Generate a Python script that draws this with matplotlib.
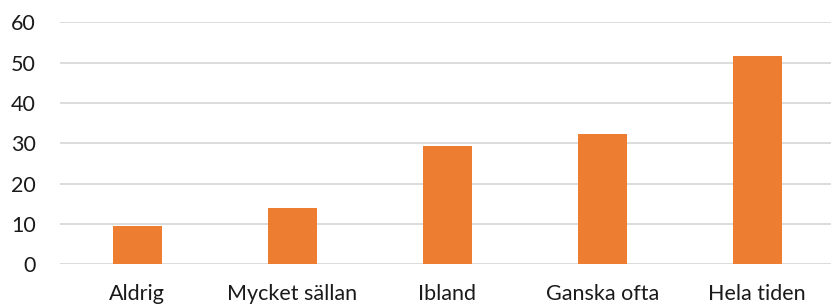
import matplotlib
matplotlib.use("Agg")
import matplotlib.pyplot as plt

categories = ["Aldrig", "Mycket sällan", "Ibland", "Ganska ofta", "Hela tiden"]
values = [9.6, 13.9, 29.3, 32.3, 51.7]
yticks = [0, 10, 20, 30, 40, 50, 60]

plt.rcParams['font.family'] = ['Lato', 'DejaVu Sans']

fig = plt.figure(figsize=(8.31, 3.07), dpi=100)
ax = fig.add_axes([59.7/831, (307-264.3)/307, 775/831, (264.3-22.3)/307])
x = list(range(len(categories)))
ax.bar(x, values, width=0.316, color='#ED7D31', zorder=3)
ax.set_xlim(-0.5, len(categories) - 0.5)
ax.set_ylim(0, 60)
ax.set_yticks(yticks)
ax.set_xticks(x)
ax.set_xticklabels(categories)
ax.yaxis.grid(True, color='#D9D9D9', linewidth=1.3, zorder=0)
ax.set_axisbelow(True)
for s in ax.spines.values():
    s.set_visible(False)
ax.tick_params(axis='both', length=0, labelsize=15.5, colors='#1a1a1a')
ax.tick_params(axis='x', pad=14)
ax.tick_params(axis='y', pad=17)
fig.savefig("out.png", dpi=100)
